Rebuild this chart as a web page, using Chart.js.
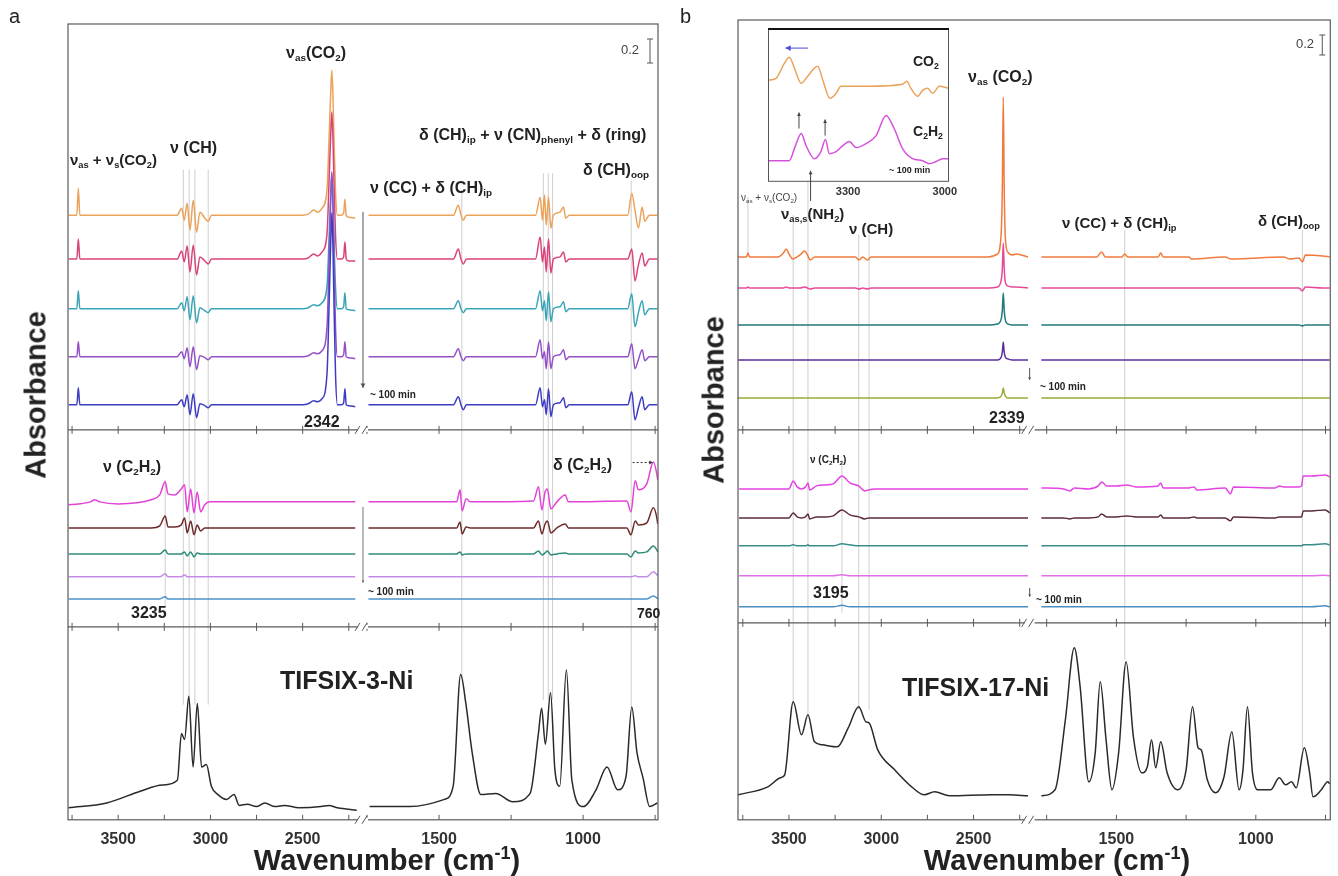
<!DOCTYPE html>
<html>
<head>
<meta charset="utf-8">
<script src="https://cdn.jsdelivr.net/npm/chart.js@4.4.1/dist/chart.umd.min.js"></script>
<style>
  body { margin: 0; background: #fff; }
  #wrap { position: relative; width: 1338px; height: 876px; overflow: hidden;
          font-family: 'Liberation Sans', Arial, sans-serif; }
  canvas { position: absolute; }
  .t { position: absolute; font-weight: bold; color: #222; white-space: nowrap; line-height: 1; }
  .t sub { font-size: 0.62em; vertical-align: -0.3em; line-height: 0; }
  .t sup { font-size: 0.62em; vertical-align: 0.6em; line-height: 0; }
  .n { font-weight: normal; color: #444; }
  .ax { font-size: 29px; transform: translate(-50%, -50%) rotate(-90deg); }
  .xt { font-size: 29px; transform: translateX(-50%); }
</style>
</head>
<body>
<div id="wrap">
  <canvas id="ca" width="670" height="876" style="left:0;top:0;width:670px;height:876px"></canvas>
  <canvas id="cb" width="668" height="876" style="left:670px;top:0;width:668px;height:876px"></canvas>
  <canvas id="ci" width="200" height="175" style="left:768px;top:28px;width:200px;height:175px"></canvas>

  <!-- panel a -->
  <div class="t n" style="left:9px;top:6px;font-size:20px;color:#222">a</div>
  <div class="t" style="left:286px;top:45px;font-size:16px">ν<sub>as</sub>(CO<sub>2</sub>)</div>
  <div class="t n" style="left:621px;top:43px;font-size:13px">0.2</div>
  <div class="t" style="left:70px;top:152px;font-size:15px">ν<sub>as</sub> + ν<sub>s</sub>(CO<sub>2</sub>)</div>
  <div class="t" style="left:170px;top:140px;font-size:16px">ν (CH)</div>
  <div class="t" style="left:419px;top:127px;font-size:16px">δ (CH)<sub>ip</sub> + ν (CN)<sub>phenyl</sub> + δ (ring)</div>
  <div class="t" style="left:370px;top:180px;font-size:16px">ν (CC) + δ (CH)<sub>ip</sub></div>
  <div class="t" style="left:583px;top:162px;font-size:16px">δ (CH)<sub>oop</sub></div>
  <div class="t" style="left:370px;top:390px;font-size:10px">~ 100 min</div>
  <div class="t" style="left:304px;top:414px;font-size:16px">2342</div>
  <div class="t" style="left:103px;top:459px;font-size:16px">ν (C<sub>2</sub>H<sub>2</sub>)</div>
  <div class="t" style="left:553px;top:457px;font-size:16px">δ (C<sub>2</sub>H<sub>2</sub>)</div>
  <div class="t" style="left:131px;top:605px;font-size:16px">3235</div>
  <div class="t" style="left:637px;top:606px;font-size:14px">760</div>
  <div class="t" style="left:368px;top:587px;font-size:10px">~ 100 min</div>
  <div class="t" style="left:280px;top:668px;font-size:25px">TIFSIX-3-Ni</div>
  <div class="t ax" style="left:36px;top:395px">Absorbance</div>
  <div class="t xt" style="left:387px;top:846px">Wavenumber (cm<sup>-1</sup>)</div>

  <!-- panel b -->
  <div class="t n" style="left:680px;top:6px;font-size:20px;color:#222">b</div>
  <div class="t" style="left:968px;top:69px;font-size:16px">ν<sub>as</sub> (CO<sub>2</sub>)</div>
  <div class="t n" style="left:1296px;top:37px;font-size:13px">0.2</div>
  <div class="t n" style="left:741px;top:193px;font-size:10px">ν<sub>as</sub> + ν<sub>s</sub>(CO<sub>2</sub>)</div>
  <div class="t" style="left:781px;top:206px;font-size:15px">ν<sub>as,s</sub>(NH<sub>2</sub>)</div>
  <div class="t" style="left:849px;top:221px;font-size:15px">ν (CH)</div>
  <div class="t" style="left:1062px;top:215px;font-size:15px">ν (CC) + δ (CH)<sub>ip</sub></div>
  <div class="t" style="left:1258px;top:213px;font-size:15px">δ (CH)<sub>oop</sub></div>
  <div class="t" style="left:989px;top:410px;font-size:16px">2339</div>
  <div class="t" style="left:1040px;top:382px;font-size:10px">~ 100 min</div>
  <div class="t" style="left:810px;top:455px;font-size:10px">ν (C<sub>2</sub>H<sub>2</sub>)</div>
  <div class="t" style="left:813px;top:585px;font-size:16px">3195</div>
  <div class="t" style="left:1036px;top:595px;font-size:10px">~ 100 min</div>
  <div class="t" style="left:902px;top:675px;font-size:25px">TIFSIX-17-Ni</div>
  <div class="t ax" style="left:714px;top:400px">Absorbance</div>
  <div class="t xt" style="left:1057px;top:846px">Wavenumber (cm<sup>-1</sup>)</div>
  <div class="t" style="left:913px;top:54px;font-size:14px">CO<sub>2</sub></div>
  <div class="t" style="left:913px;top:124px;font-size:14px">C<sub>2</sub>H<sub>2</sub></div>
  <div class="t" style="left:889px;top:166px;font-size:9px">~ 100 min</div>
</div>

<script>
// ---------- panel a : TIFSIX-3-Ni ----------
// CO2 loading, left part (cm-1) and absorbance above each trace's baseline
const wnA1L = [3768, 3724, 3716, 3708, 3180, 3156, 3142, 3126, 3111, 3093, 3075, 3057, 3030, 3012, 2994,
               2500, 2470, 2440, 2420, 2395, 2368, 2356, 2348, 2342, 2336, 2330, 2322, 2312, 2290, 2278,
               2271, 2264, 2250, 2215];
const a1L = [
    [0,0,0.225,0, 0,0.058,-0.042,0.1, -0.125,0.125,-0.142,0.025, -0.025,-0.05,0,0, 0.008,0.042,0.025,0.058, 0.21,0.68,1.02,1.208, 1.0,0.62,0.2,0, 0,0.017,0.133,0, -0.017,-0.025],
    [0,0,0.167,0, 0,0.067,-0.025,0.108, -0.108,0.117,-0.133,0.017, -0.017,-0.042,0,0, 0.008,0.042,0.025,0.058, 0.21,0.69,1.04,1.225, 1.01,0.63,0.2,0, 0,0.017,0.142,0, -0.017,-0.017],
    [0,0,0.15,0, 0,0.05,-0.017,0.1, -0.092,0.108,-0.117,0.008, -0.017,-0.033,0,0, 0.008,0.033,0.025,0.05, 0.19,0.63,0.95,1.125, 0.93,0.58,0.18,0, 0,0.017,0.133,0, -0.008,-0.017],
    [0,0,0.125,0, 0,0.042,-0.017,0.075, -0.083,0.083,-0.108,0.008, -0.008,-0.025,0,0, 0.008,0.033,0.025,0.05, 0.25,0.85,1.3,1.542, 1.27,0.8,0.25,0, 0,0.017,0.125,0, -0.008,-0.017],
    [0,0,0.142,0, 0,0.042,-0.017,0.083, -0.083,0.092,-0.108,0.008, -0.008,-0.025,0,0, 0.008,0.033,0.025,0.05, 0.26,0.88,1.35,1.6, 1.32,0.83,0.26,0, 0,0.017,0.133,0, -0.008,-0.017]
];
const wnA1R = [1745, 1450, 1433, 1424, 1416, 1405, 1165, 1149, 1141, 1134, 1128, 1120, 1112, 1103,
               1080, 1068, 1060, 1048, 845, 831, 820, 808, 795, 786, 770, 742];
const a1R = [
    [0,0,0.083,0,-0.042,0, 0,0.15,-0.042,0.167,-0.083,0.15,-0.108,0, 0.025,0.067,-0.025,0, 0,0.183,0.042,-0.108,0.067,-0.05,0,0],
    [0,0,0.083,0,-0.042,0, 0,0.183,-0.025,0.1,-0.108,0.167,-0.117,0, 0.017,0.058,-0.025,0, 0,0.083,-0.183,-0.05,0.05,-0.058,0,0],
    [0,0,0.067,0,-0.033,0, 0,0.15,-0.017,0.067,-0.1,0.142,-0.108,0, 0.017,0.058,-0.025,0, 0,0.125,-0.15,-0.033,0.067,-0.05,0,0],
    [0,0,0.067,0,-0.033,0, 0,0.142,-0.017,0.042,-0.1,0.125,-0.1,0, 0.017,0.058,-0.025,0, 0,0.108,-0.1,-0.025,0.058,-0.033,0,0],
    [0,0,0.067,0,-0.042,0, 0,0.142,-0.017,0.042,-0.083,0.133,-0.1,0, 0.017,0.058,-0.025,0, 0,0.108,-0.125,-0.025,0.067,-0.042,0,0]
];
const offA1 = [1.79, 1.425, 1.01, 0.61, 0.21];

// C2H2 loading
const wnA2L = [3768, 3650, 3628, 3600, 3500, 3321, 3275, 3245, 3230, 3194, 3158, 3140, 3126, 3107, 3089,
               3072, 3053, 3031, 3004, 2215];
const a2L = [
    [-0.025,0,0.017,0,-0.017, 0.017,0.058,0.167,0.067,0.058, 0.108,0.142,-0.083,0.108,-0.092, 0.083,-0.083,-0.025,0,0],
    [0,0,0,0,0, 0,0.017,0.1,0.008,0.008, 0.025,0.083,-0.042,0.058,-0.058, 0.025,-0.025,0,0,0],
    [0,0,0,0,0, 0,0,0.033,0,0, 0,0.017,-0.017,0.017,-0.025, 0.008,0,0,0,0],
    [0,0,0,0,0, 0,0,0.025,0,0, 0,0.017,0,0,0, 0,0,0,0,0],
    [0,0,0,0,0, 0,0,0.017,0,0, 0,0,0,0,0, 0,0,0,0,0]
];
const wnA2R = [1745, 1485, 1439, 1427, 1420, 1406, 1392, 1172, 1155, 1143, 1132, 1124, 1112, 1091,
               1062, 1051, 848, 834, 819, 808, 779, 756, 744, 741];
const a2R = [
    [0,0,0,0.1,-0.075,0.025,0, 0.008,0.125,-0.067,0.083,0.108,-0.058,0, 0.058,0, 0.008,-0.083,0.175,0.1,0.15,0.333,0.233,0.183],
    [0,0,0,0.05,-0.05,0.008,0, 0,0.058,-0.05,0.033,0.058,-0.042,0, 0.033,0, 0,-0.058,0.058,0.025,0.042,0.167,0.083,0.033],
    [0,0,0,0.017,-0.008,0,0, 0,0.025,-0.008,0.008,0.025,-0.008,0, 0.008,0, 0,-0.025,0.025,0.008,0.017,0.067,0.033,0.017],
    [0,0,0,0,0,0,0, 0,0,0,0,0,0,0, 0,0, 0,0,0.008,0,0,0.042,0.017,0.008],
    [0,0,0,0,0,0,0, 0,0,0,0,0,0,0, 0,0, 0,0,0,0,0,0.025,0.008,0]
];
const offA2 = [1.042, 0.825, 0.608, 0.417, 0.233];

// bare MOF
const wnA3L = [3770, 3562, 3377, 3261, 3179, 3157, 3140, 3117, 3094, 3071, 3048, 3022, 2995, 2959, 2913,
               2872, 2844, 2800, 2751, 2705, 2650, 2600, 2520, 2400, 2358, 2311, 2207];
const a3L = [0.10, 0.14, 0.24, 0.29, 0.33, 0.72, 0.67, 1.03, 0.44, 0.97, 0.44, 0.46, 0.28, 0.21, 0.17,
             0.21, 0.12, 0.13, 0.11, 0.14, 0.11, 0.12, 0.10, 0.11, 0.12, 0.10, 0.08];
const wnA3R = [1741, 1600, 1481, 1451, 1425, 1407, 1385, 1355, 1303, 1244, 1184, 1155, 1144, 1131, 1113,
               1098, 1081, 1058, 1039, 999, 955, 917, 880, 851, 831, 813, 792, 769, 742];
const a3R = [0.11, 0.11, 0.17, 0.28, 1.21, 0.97, 0.56, 0.21, 0.22, 0.15, 0.22, 0.72, 0.93, 0.63, 1.06,
             0.42, 0.28, 1.25, 0.33, 0.11, 0.25, 0.44, 0.25, 0.36, 0.94, 0.56, 0.35, 0.11, 0.14];

// ---------- panel b : TIFSIX-17-Ni ----------
const wnB1L = [3776, 3730, 3722, 3714, 3560, 3530, 3515, 3500, 3480, 3440, 3415, 3400, 3385, 3360, 3140,
               3120, 3100, 3075, 3055, 2420, 2370, 2350, 2344, 2339, 2334, 2328, 2315, 2290, 2270, 2205];
const b1L = [
    [0,0,0.04,0, 0,0.04,0.08,0.03,-0.02,0.02,0.06,0.02,-0.03,0, 0,-0.03,0,-0.03,0, 0,0.03,0.25,0.7,1.6,0.7,0.2,0.05,0.02,0.03,0],
    [0,0,0.01,0, 0,0,0.01,0,0,0,0.01,0,-0.01,0, 0,-0.01,0,-0.01,0, 0,0.01,0.08,0.2,0.45,0.2,0.06,0.02,0.01,0.01,0],
    [0,0,0,0, 0,0,0,0,0,0,0,0,0,0, 0,0,0,0,0, 0,0.01,0.06,0.15,0.32,0.15,0.05,0.01,0,0,0],
    [0,0,0,0, 0,0,0,0,0,0,0,0,0,0, 0,0,0,0,0, 0,0,0.03,0.08,0.18,0.08,0.03,0.01,0,0,0],
    [0,0,0,0, 0,0,0,0,0,0,0,0,0,0, 0,0,0,0,0, 0,0,0.02,0.05,0.1,0.05,0.02,0,0,0,0]
];
const wnB1R = [1769, 1570, 1553, 1540, 1480, 1470, 1460, 1350, 1341, 1332, 1240, 1230, 1110, 1091,
               900, 880, 845, 833, 822, 760, 735];
const b1R = [
    [0,0,0.05,0,0,0.03,0,0,0.04,0,0,-0.02,0,-0.02,0,-0.02,-0.01,-0.05,0.02,0.01,0],
    [0,0,0,0,0,0,0,0,0,0,0,0,0,0,0,0,0,-0.03,0.01,0,0],
    [0,0,0,0,0,0,0,0,0,0,0,0,0,0,0,0,0,-0.01,0,0,0],
    [0,0,0,0,0,0,0,0,0,0,0,0,0,0,0,0,0,0,0,0,0],
    [0,0,0,0,0,0,0,0,0,0,0,0,0,0,0,0,0,0,0,0,0]
];
const offB1 = [1.73, 1.42, 1.05, 0.70, 0.32];

const wnB2L = [3770, 3500, 3477, 3455, 3432, 3410, 3397, 3388, 3350, 3300, 3260, 3213, 3170, 3122, 3090,
               3066, 3040, 2205];
const b2L = [
    [0,0,0.08,0.02,0,0.02,0.06,-0.01,0.03,0.04,0.05,0.13,0.06,0.03,-0.02,-0.01,0,0],
    [0,0,0.05,0.01,0,0.01,0.04,-0.01,0.01,0.01,0.02,0.08,0.03,0.01,-0.01,0,0,0],
    [0,0,0.01,0,0,0,0.01,0,0,0,0,0.02,0.01,0,0,0,0,0],
    [0,0,0,0,0,0,0,0,0,0,0,0.01,0,0,0,0,0,0],
    [0,0,0,0,0,0,0,0,0,0,0,0.015,0,0,0,0,0,0]
];
const wnB2R = [1769, 1690, 1667, 1650, 1600, 1565, 1553, 1535, 1500, 1463, 1430, 1350, 1341, 1332, 1240,
               1221, 1212, 1110, 1091, 1080, 930, 916, 900, 845, 836, 830, 800, 751, 735];
const b2R = [
    [0.01,0,-0.02,0.01,0,0.03,0.07,0.03,0.03,0.04,0.02,0.03,0.06,0.01,0.01,0.02,-0.01,0.01,-0.05,0.02,0.01,0.03,0.02,0.02,0.03,0.13,0.13,0.14,0.12],
    [0,0,-0.01,0,0,0.01,0.04,0.01,0.01,0.02,0.01,0.01,0.03,0,0,0.01,0,0,-0.03,0.01,0,0.01,0.01,0.01,0.01,0.07,0.07,0.08,0.05],
    [0,0,0,0,0,0,0,0,0,0,0,0,0,0,0,0,0,0,0,0,0,0,0,0,0,0.01,0.01,0.02,0.01],
    [0,0,0,0,0,0,0,0,0,0,0,0,0,0,0,0,0,0,0,0,0,0,0,0,0,0,0,0.005,0],
    [0,0,0,0,0,0,0,0,0,0,0,0,0,0,0,0,0,0,0,0,0,0,0,0,0,0,0,0.01,0]
];
const offB2 = [1.34, 1.05, 0.77, 0.47, 0.16];

const wnB3L = [3776, 3614, 3546, 3523, 3477, 3432, 3397, 3362, 3319, 3238, 3179, 3122, 3083, 3066, 3019,
               2927, 2835, 2767, 2711, 2631, 2400, 2308, 2205];
const b3L = [0.25, 0.33, 0.42, 0.45, 1.18, 0.85, 1.05, 0.78, 0.75, 0.73, 0.92, 1.13, 0.98, 0.97, 0.70,
             0.50, 0.33, 0.25, 0.28, 0.24, 0.25, 0.25, 0.24];
const wnB3R = [1769, 1720, 1683, 1651, 1630, 1599, 1576, 1558, 1537, 1516, 1492, 1465, 1439, 1409, 1389,
               1374, 1359, 1341, 1318, 1280, 1250, 1227, 1207, 1196, 1174, 1144, 1114, 1086, 1060, 1046,
               1030, 1012, 993, 947, 916, 893, 872, 855, 826, 807, 795, 765, 742, 735];
const b3R = [0.24, 0.30, 1.00, 1.72, 1.33, 0.38, 0.67, 1.38, 0.80, 0.30, 0.67, 1.58, 0.83, 0.47, 0.53,
             0.80, 0.52, 0.78, 0.47, 0.30, 0.50, 1.13, 0.72, 0.70, 0.40, 0.27, 0.43, 0.88, 0.30, 0.50,
             1.13, 0.47, 0.30, 0.30, 0.42, 0.35, 0.38, 0.32, 0.72, 0.47, 0.23, 0.30, 0.38, 0.36];

// inset of panel b (3550-2990 cm-1)
const wnInCO2 = [3549, 3523, 3497, 3482, 3466, 3445, 3425, 3394, 3378, 3356, 3337, 3322, 3234, 3131, 3118,
                 3105, 3084, 3069, 3053, 3038, 3017, 2987];
const inCO2 = [1.01, 1.03, 1.18, 1.24, 1.13, 0.98, 1.05, 1.15, 1.01, 0.83, 0.88, 0.95, 0.95, 0.97, 1.00,
               0.93, 0.85, 0.91, 0.93, 0.88, 0.95, 0.93];
const wnInC2 = [3549, 3482, 3464, 3445, 3430, 3404, 3384, 3370, 3358, 3337, 3316, 3296, 3275, 3244, 3213,
                3182, 3157, 3131, 3100, 3069, 3048, 3028, 3007, 2987];
const inC2 = [0.21, 0.21, 0.35, 0.48, 0.36, 0.23, 0.30, 0.42, 0.28, 0.30, 0.36, 0.40, 0.34, 0.38, 0.46,
              0.66, 0.53, 0.33, 0.23, 0.21, 0.18, 0.20, 0.23, 0.23];

// tick positions (cm-1)
const ticksL = [3750, 3500, 3250, 3000, 2750, 2500, 2250];
const ticksR = [1750, 1500, 1250, 1000, 750];
const ticksInset = [3300, 3000];

// band assignment lines
const markA_CH = [3147, 3115, 3084, 3012];
const markA_C2H2 = [3245];
const markA_CC = [1421];
const markA_CN = [1138, 1121, 1106];
const markA_oop = [833];
const markB_comb = [3722];
const markB_NH = [3477, 3397];
const markB_C2H2 = [3213];
const markB_CH = [3122, 3066];
const markB_CC = [1470];
const markB_oop = [833];

const colA1 = ['#EBA35B', '#D9437B', '#3BA5B8', '#9450C8', '#3D3DC2'];
const colA2 = ['#E243D6', '#6E2B2B', '#2E8B79', '#C48BE6', '#4B92CA'];
const colB1 = ['#F07B3C', '#E8489A', '#1F7A7A', '#5B2E9E', '#9CAA34'];
const colB2 = ['#E443E2', '#5B2A3C', '#3A8C8C', '#E26FE8', '#4A8EC0'];
const colBare = '#2a2a2a';

Chart.defaults.font.family = "'Liberation Sans', Arial, sans-serif";
Chart.defaults.color = '#333';

function zip(wn, vals, off)
{
    return wn.map((w, j) => ({x: w, y: vals[j] + (off || 0)}));
}

function stackSets(wn, rows, offs, colors, xID, yID, orders)
{
    return rows.map((r, i) => ({
        data: zip(wn, r, offs[i]),
        borderColor: colors[i],
        xAxisID: xID,
        yAxisID: yID,
        order: orders ? orders[i] : 0
    }));
}

function bareSet(wn, vals, xID)
{
    return {data: zip(wn, vals), borderColor: colBare, borderWidth: 1.5, xAxisID: xID, yAxisID: 'y3'};
}

const P = (chart, id, v) => chart.scales[id].getPixelForValue(v);

function seg(ctx, x1, y1, x2, y2)
{
    ctx.beginPath();
    ctx.moveTo(x1, y1);
    ctx.lineTo(x2, y2);
    ctx.stroke();
}

function drawArrow(chart, ar)
{
    const ctx = chart.ctx;
    const x1 = P(chart, ar.p1[0], ar.p1[1]), y1 = P(chart, ar.p1[2], ar.p1[3]);
    const x2 = P(chart, ar.p2[0], ar.p2[1]), y2 = P(chart, ar.p2[2], ar.p2[3]);
    ctx.save();
    ctx.strokeStyle = ctx.fillStyle = ar.color || '#444';
    ctx.lineWidth = ar.width || 1;
    if (ar.dash) ctx.setLineDash([2, 2]);
    seg(ctx, x1, y1, x2, y2);
    ctx.setLineDash([]);
    const a = Math.atan2(y2 - y1, x2 - x1), s = ar.head || 5;
    ctx.beginPath();
    ctx.moveTo(x2, y2);
    ctx.lineTo(x2 - s * Math.cos(a - 0.5), y2 - s * Math.sin(a - 0.5));
    ctx.lineTo(x2 - s * Math.cos(a + 0.5), y2 - s * Math.sin(a + 0.5));
    ctx.closePath();
    ctx.fill();
    ctx.restore();
}

// frame, section dividers, axis break, inner ticks, assignment lines, scale bar
function makeDecor(cfg)
{
    return {
        id: 'decor',
        beforeDatasetsDraw(chart) {
            const ctx = chart.ctx;
            ctx.save();
            ctx.strokeStyle = '#c2c2c2';
            ctx.lineWidth = 0.8;
            cfg.markers.forEach(m => {
                const ya = P(chart, m.from[0], m.from[1]), yb = P(chart, m.to[0], m.to[1]);
                m.wn.forEach(w => {
                    const x = P(chart, m.x, w);
                    seg(ctx, x, ya, x, yb);
                });
            });
            ctx.restore();
        },
        afterDatasetsDraw(chart) {
            const {ctx, chartArea: a, scales} = chart;
            ctx.save();
            ctx.strokeStyle = '#5a5a5a';
            ctx.lineWidth = 1.2;
            ctx.strokeRect(a.left, a.top, a.right - a.left, a.bottom - a.top);
            const edges = [scales.y1.bottom, scales.y2.bottom];
            edges.forEach(y => seg(ctx, a.left, y, a.right, y));
            ctx.lineWidth = 1;
            ['xL', 'xR'].forEach(id => scales[id].ticks.forEach(t => {
                const x = scales[id].getPixelForValue(t.value);
                seg(ctx, x, a.bottom, x, a.bottom - 5);
                edges.forEach(y => seg(ctx, x, y - 4, x, y + 4));
            }));
            const bx = scales.xL.right;
            edges.concat([a.bottom]).forEach(y => {
                ctx.fillStyle = '#fff';
                ctx.fillRect(bx - 5, y - 2, 10, 4);
                seg(ctx, bx - 8, y + 4, bx - 3, y - 4);
                seg(ctx, bx - 1, y + 4, bx + 4, y - 4);
            });
            const xb = a.right - 8;
            const yb0 = P(chart, 'y1', cfg.bar.v), yb1 = P(chart, 'y1', cfg.bar.v + cfg.bar.dv);
            ctx.strokeStyle = '#555';
            seg(ctx, xb, yb0, xb, yb1);
            seg(ctx, xb - 3, yb0, xb + 3, yb0);
            seg(ctx, xb - 3, yb1, xb + 3, yb1);
            ctx.restore();
            cfg.arrows.forEach(ar => drawArrow(chart, ar));
        }
    };
}

function xAxis(min, max, w, tickVals)
{
    return {
        type: 'linear', axis: 'x', position: 'bottom', stack: 'sx', stackWeight: w,
        min: min, max: max, reverse: true,
        grid: {display: false, drawTicks: false},
        border: {display: false},
        afterBuildTicks: s => { s.ticks = tickVals.map(v => ({value: v})); },
        ticks: {
            autoSkip: false, maxRotation: 0, padding: 10,
            color: '#333', font: {size: 16, weight: 'bold'},
            callback: v => (v % 500 === 0 ? String(v) : '')
        }
    };
}

function yAxis(max, h)
{
    return {type: 'linear', axis: 'y', position: 'left', display: false, stack: 'sy', stackWeight: h, min: 0, max: max};
}

function makePanel(id, p)
{
    return new Chart(document.getElementById(id), {
        type: 'line',
        data: {datasets: p.sets},
        options: {
            responsive: false,
            animation: false,
            devicePixelRatio: 1,
            events: [],
            layout: {padding: p.pad},
            plugins: {legend: {display: false}, tooltip: {enabled: false}},
            elements: {point: {radius: 0}, line: {borderWidth: 1.5, cubicInterpolationMode: 'monotone'}},
            scales: {
                xL: xAxis(p.xL[0], p.xL[1], p.xL[2], ticksL),
                xR: xAxis(p.xR[0], p.xR[1], p.xR[2], ticksR),
                y3: yAxis(p.y3[0], p.y3[1]),
                y2: yAxis(p.y2[0], p.y2[1]),
                y1: yAxis(p.y1[0], p.y1[1])
            }
        },
        plugins: [makeDecor(p)]
    });
}

// panel a
makePanel('ca', {
    pad: {left: 68, right: 12, top: 24, bottom: 17},
    xL: [2173, 3772, 295], xR: [740, 1764, 295],
    y1: [3.383, 406], y2: [1.642, 197], y3: [1.608, 193],
    sets: [].concat(
        stackSets(wnA1L, a1L, offA1, colA1, 'xL', 'y1', [5, 4, 3, 2, 1]),
        stackSets(wnA1R, a1R, offA1, colA1, 'xR', 'y1', [5, 4, 3, 2, 1]),
        stackSets(wnA2L, a2L, offA2, colA2, 'xL', 'y2'),
        stackSets(wnA2R, a2R, offA2, colA2, 'xR', 'y2'),
        [bareSet(wnA3L, a3L, 'xL'), bareSet(wnA3R, a3R, 'xR')]
    ),
    markers: [
        {x: 'xL', wn: markA_CH, from: ['y1', 2.17], to: ['y3', 0.96]},
        {x: 'xL', wn: markA_C2H2, from: ['y2', 1.225], to: ['y2', 0.167]},
        {x: 'xR', wn: markA_CC, from: ['y1', 2.0], to: ['y3', 1.18]},
        {x: 'xR', wn: markA_CN, from: ['y1', 2.14], to: ['y3', 1.0]},
        {x: 'xR', wn: markA_oop, from: ['y1', 2.08], to: ['y3', 0.93]}
    ],
    arrows: [
        {p1: ['xL', 2173, 'y1', 1.817], p2: ['xL', 2173, 'y1', 0.35], color: '#555'},
        {p1: ['xL', 2173, 'y2', 1.0], p2: ['xL', 2173, 'y2', 0.367], color: '#777', head: 3},
        {p1: ['xR', 828, 'y2', 1.37], p2: ['xR', 758, 'y2', 1.37], dash: true, color: '#333', head: 4}
    ],
    bar: {v: 3.058, dv: 0.2}
});

// panel b
makePanel('cb', {
    pad: {left: 68, right: 3, top: 20, bottom: 17},
    xL: [2196, 3776, 294], xR: [733, 1811, 303],
    y1: [4.10, 410], y2: [1.93, 193], y3: [1.97, 197],
    sets: [].concat(
        stackSets(wnB1L, b1L, offB1, colB1, 'xL', 'y1', [1, 2, 3, 4, 5]),
        stackSets(wnB1R, b1R, offB1, colB1, 'xR', 'y1', [1, 2, 3, 4, 5]),
        stackSets(wnB2L, b2L, offB2, colB2, 'xL', 'y2'),
        stackSets(wnB2R, b2R, offB2, colB2, 'xR', 'y2'),
        [bareSet(wnB3L, b3L, 'xL'), bareSet(wnB3R, b3R, 'xR')]
    ),
    markers: [
        {x: 'xL', wn: markB_comb, from: ['y1', 2.33], to: ['y1', 1.73]},
        {x: 'xL', wn: [markB_NH[0]], from: ['y1', 2.15], to: ['y3', 1.15]},
        {x: 'xL', wn: [markB_NH[1]], from: ['y1', 2.5], to: ['y3', 1.05]},
        {x: 'xL', wn: markB_C2H2, from: ['y2', 1.63], to: ['y2', 0.10]},
        {x: 'xL', wn: markB_CH, from: ['y1', 1.95], to: ['y3', 1.10]},
        {x: 'xR', wn: markB_CC, from: ['y1', 2.0], to: ['y3', 1.6]},
        {x: 'xR', wn: markB_oop, from: ['y1', 2.0], to: ['y3', 0.7]}
    ],
    arrows: [
        {p1: ['xL', 2196, 'y1', 0.62], p2: ['xL', 2196, 'y1', 0.5], color: '#555', head: 3},
        {p1: ['xL', 2196, 'y2', 0.35], p2: ['xL', 2196, 'y2', 0.26], color: '#555', head: 3}
    ],
    bar: {v: 3.75, dv: 0.2}
});

// inset
new Chart(document.getElementById('ci'), {
    type: 'line',
    data: {
        datasets: [
            {data: zip(wnInCO2, inCO2), borderColor: '#E9A35A'},
            {data: zip(wnInC2, inC2), borderColor: '#D552DA'}
        ]
    },
    options: {
        responsive: false,
        animation: false,
        devicePixelRatio: 1,
        events: [],
        layout: {padding: {left: 0, right: 19, top: 0, bottom: 0}},
        plugins: {legend: {display: false}, tooltip: {enabled: false}},
        elements: {point: {radius: 0}, line: {borderWidth: 1.5, cubicInterpolationMode: 'monotone'}},
        scales: {
            x: {
                type: 'linear', min: 2987, max: 3548, reverse: true,
                grid: {display: false, drawTicks: false},
                border: {display: false},
                afterBuildTicks: s => { s.ticks = ticksInset.map(v => ({value: v})); },
                ticks: {autoSkip: false, maxRotation: 0, padding: 4,
                        color: '#333', font: {size: 11, weight: 'bold'}, callback: v => String(v)}
            },
            y: {display: false, min: 0, max: 1.53}
        }
    },
    plugins: [{
        id: 'insetFrame',
        beforeDatasetsDraw(chart) {
            const {ctx, chartArea: a} = chart;
            ctx.save();
            ctx.fillStyle = '#fff';
            ctx.fillRect(a.left, a.top, a.right - a.left, a.bottom - a.top);
            ctx.restore();
        },
        afterDatasetsDraw(chart) {
            const {ctx, chartArea: a} = chart;
            ctx.save();
            ctx.strokeStyle = '#555';
            ctx.lineWidth = 1;
            ctx.strokeRect(a.left + 0.5, a.top + 0.5, a.right - a.left - 1, a.bottom - a.top - 1);
            ctx.strokeStyle = '#111';
            ctx.lineWidth = 2.2;
            seg(ctx, a.left, a.top + 1, a.right, a.top + 1);
            ctx.restore();
            [
                {p1: ['x', 3424, 'y', 1.33], p2: ['x', 3494, 'y', 1.33], color: '#4a4ad8', head: 6},
                {p1: ['x', 3452, 'y', 0.53], p2: ['x', 3452, 'y', 0.69], color: '#444', head: 4},
                {p1: ['x', 3371, 'y', 0.46], p2: ['x', 3371, 'y', 0.62], color: '#444', head: 4},
                {p1: ['x', 3416, 'y', -0.19], p2: ['x', 3416, 'y', 0.11], color: '#444', head: 4}
            ].forEach(ar => drawArrow(chart, ar));
        }
    }]
});
</script>
</body>
</html>
